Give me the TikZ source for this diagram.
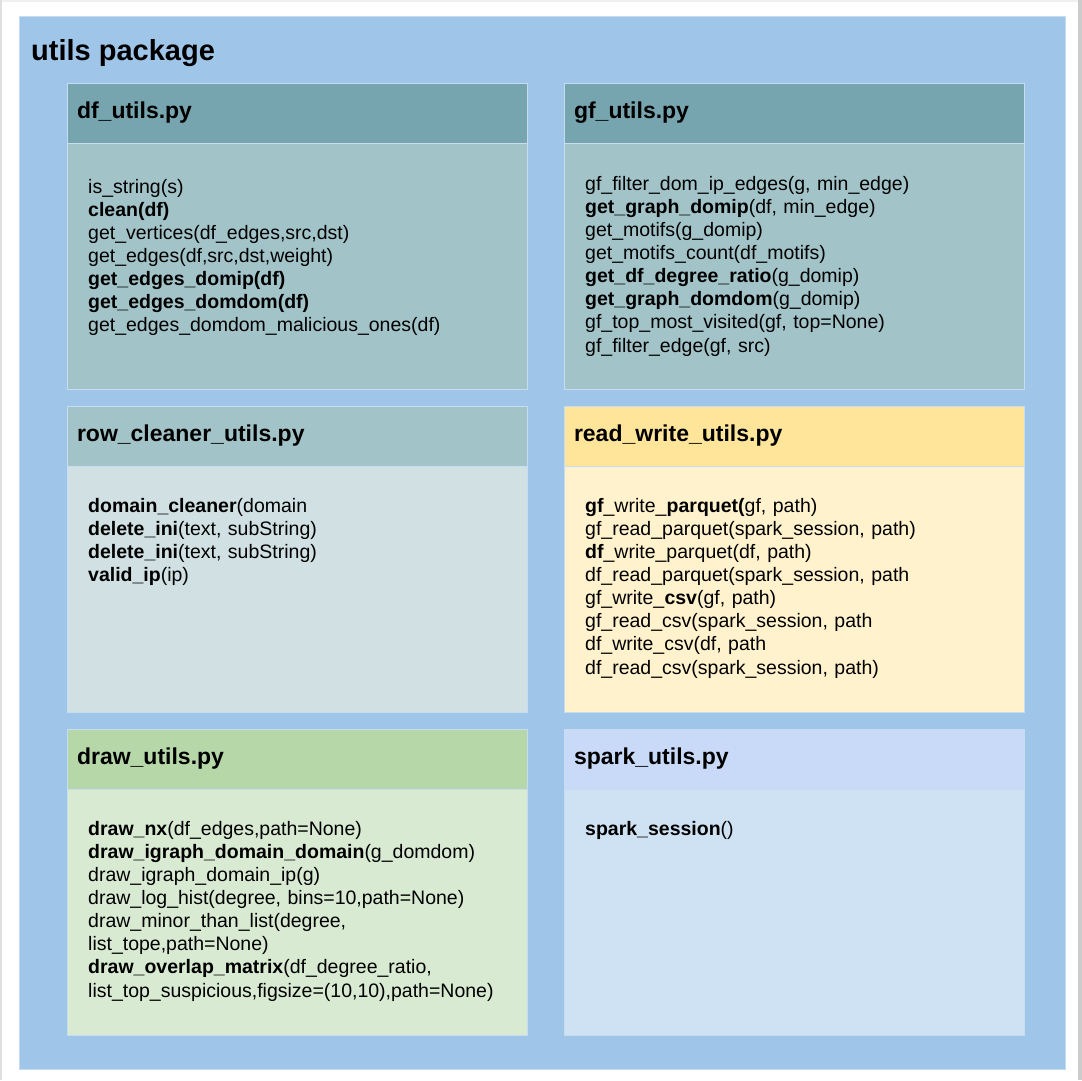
\documentclass[tikz,border=0pt]{standalone}
\usepackage{fontspec}
\setmainfont{Liberation Sans}
\usetikzlibrary{positioning}
\definecolor{pkgblue}{HTML}{9FC5E8}
\definecolor{edgeblue}{HTML}{C6DCF2}
\definecolor{cyanhead}{HTML}{76A5AF}
\definecolor{cyanbody}{HTML}{A2C4C9}
\definecolor{cyanpale}{HTML}{D0E0E3}
\definecolor{yellowhead}{HTML}{FFE599}
\definecolor{yellowbody}{HTML}{FFF2CC}
\definecolor{greenhead}{HTML}{B6D7A8}
\definecolor{greenbody}{HTML}{D9EAD3}
\definecolor{sparkhead}{HTML}{C9DAF8}
\definecolor{sparkbody}{HTML}{CFE2F3}
\begin{document}
\begin{tikzpicture}[
		x=1pt, y=-1pt,
		head/.style={draw=edgeblue, line width=1pt, outer sep=0pt, text width=440pt, inner xsep=10pt, inner ysep=0pt, minimum height=60pt, align=left, font=\fontsize{23}{27}\selectfont\bfseries},
		body/.style={draw=edgeblue, line width=1pt, outer sep=0pt, minimum width=460pt, minimum height=246pt, inner sep=0pt},
		list/.style={anchor=base west, text width=430pt, inner sep=0pt, align=left, font=\fontsize{19.5}{23.15}\selectfont}
		]
		\useasboundingbox (0,0) rectangle (1082,1080);
		% page frame and package background
		\fill[gray!12] (0,0) rectangle (1082,1.5);
		\fill[gray!25] (0,0) rectangle (1.5,1080);
		\fill[gray!40] (1078,0) rectangle (1082,1080);
		\path[fill=pkgblue, draw=edgeblue] (19,16) rectangle (1065,1069);
		\node[anchor=base west, inner sep=0pt, font=\fontsize{29}{34}\selectfont\bfseries] (title) at (31,60) {utils package};
		
		% left column
		\node[head, anchor=north west, fill=cyanhead] (dfhead) at (67,83) {df\_utils.py};
		\node[body, below=0pt of dfhead, fill=cyanbody] (dfbody) {};
		\node[head, below=17pt of dfbody, fill=cyanbody] (rowhead) {row\_cleaner\_utils.py};
		\node[body, below=0pt of rowhead, fill=cyanpale] (rowbody) {};
		\node[head, below=17pt of rowbody, fill=greenhead] (drawhead) {draw\_utils.py};
		\node[body, below=0pt of drawhead, fill=greenbody] (drawbody) {};
		
		% right column
		\node[head, right=37pt of dfhead, fill=cyanhead] (gfhead) {gf\_utils.py};
		\node[body, below=0pt of gfhead, fill=cyanbody] (gfbody) {};
		\node[head, below=17pt of gfbody, fill=yellowhead] (rwhead) {read\_write\_utils.py};
		\node[body, below=0pt of rwhead, fill=yellowbody] (rwbody) {};
		\node[head, below=17pt of rwbody, fill=sparkhead] (sparkhead) {spark\_utils.py};
		\node[body, below=0pt of sparkhead, fill=sparkbody] (sparkbody) {};
		
		% function lists
		\node[list] (dflist) at ([xshift=21pt, yshift=-50pt]dfbody.north west) {is\_string(s)\\
			\textbf{clean(df)}\\
			get\_vertices(df\_edges,src,dst)\\
			get\_edges(df,src,dst,weight)\\
			\textbf{get\_edges\_domip(df)}\\
			\textbf{get\_edges\_domdom(df)}\\
			get\_edges\_domdom\_malicious\_ones(df)};
		\node[list] (gflist) at ([xshift=21pt, yshift=-47pt]gfbody.north west) {gf\_filter\_dom\_ip\_edges(g, min\_edge)\\
			\textbf{get\_graph\_domip}(df, min\_edge)\\
			get\_motifs(g\_domip)\\
			get\_motifs\_count(df\_motifs)\\
			\textbf{get\_df\_degree\_ratio}(g\_domip)\\
			\textbf{get\_graph\_domdom}(g\_domip)\\
			gf\_top\_most\_visited(gf, top=None)\\
			gf\_filter\_edge(gf, src)};
		\node[list] (rowlist) at ([xshift=21pt, yshift=-46pt]rowbody.north west) {\textbf{domain\_cleaner}(domain\\
			\textbf{delete\_ini}(text, subString)\\
			\textbf{delete\_ini}(text, subString)\\
			\textbf{valid\_ip}(ip)};
		\node[list] (rwlist) at ([xshift=21pt, yshift=-46pt]rwbody.north west) {\textbf{gf}\_write\_\textbf{parquet(}gf, path)\\
			gf\_read\_parquet(spark\_session, path)\\
			\textbf{df}\_write\_parquet(df, path)\\
			df\_read\_parquet(spark\_session, path\\
			gf\_write\_\textbf{csv}(gf, path)\\
			gf\_read\_csv(spark\_session, path\\
			df\_write\_csv(df, path\\
			df\_read\_csv(spark\_session, path)};
		\node[list] (drawlist) at ([xshift=21pt, yshift=-46pt]drawbody.north west) {\textbf{draw\_nx}(df\_edges,path=None)\\
			\textbf{draw\_igraph\_domain\_domain}(g\_domdom)\\
			draw\_igraph\_domain\_ip(g)\\
			draw\_log\_hist(degree, bins=10,path=None)\\
			draw\_minor\_than\_list(degree,\\
			list\_tope,path=None)\\
			\textbf{draw\_overlap\_matrix}(df\_degree\_ratio,\\
			list\_top\_suspicious,figsize=(10,10),path=None)};
		\node[list] (sparklist) at ([xshift=21pt, yshift=-46pt]sparkbody.north west) {\textbf{spark\_session}()};
	\end{tikzpicture}
\end{document}
